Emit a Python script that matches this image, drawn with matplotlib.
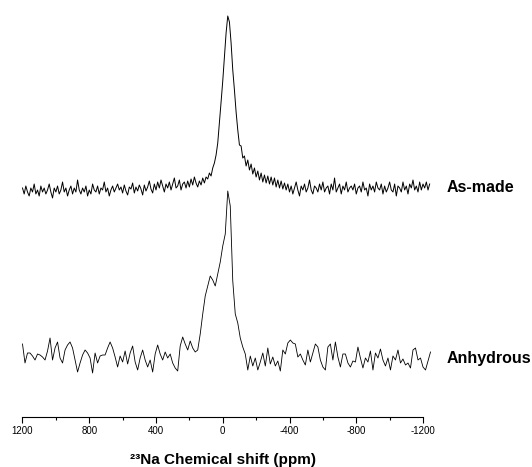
"""
23Na MAS NMR spectra: as-made vs anhydrous
"""

import numpy as np
import matplotlib.pyplot as plt

plt.rcParams['font.family'] = ['Liberation Sans', 'DejaVu Sans']
plt.rcParams['axes.unicode_minus'] = False

# intensities (arbitrary units, baseline ~ 0)
# As-made: 10 ppm spacing from 1200 to -1240 ppm
as_made = [
    0, -6, 2, -4, -8, 0, -4, 4, -6, -2, -8, 2, -4, 0, -6, -2, 4, -4, -10, 0,
    -4, 2, -6, -2, 6, -4, 0, -8, -2, 2, -6, 0, -4, 8, -2, -6, 0, -4, 2, -8,
    -2, -6, 4, -2, -4, 2, -6, 0, -2, 6, -4, 0, -8, -2, 2, -4, 0, 4, -2,
    1, -5, 3, -3, -7, 1, -1, 5, -5, 1, -3, 3, -1, -7, 3, -3, 1, 7, -1, -5,
    4, -2, 6, 0, 8, 2, -4, 4, 0, 6, -2, 4, 10, 0, 2, 8, -2, 4, 6, 0,
    7, 1, 9, 3, 11, 5, 1, 7, 3,
    10, 5, 11, 9, 15, 12, 20, 25,
    33, 45, 65, 86, 107, 131, 155, 172, 166, 145, 118, 98, 76,
    58, 43, 42, 30, 32, 22, 28, 18, 24, 14, 20, 11, 17, 8,
    15, 6, 13, 5, 12, 4, 11, 3, 10, 1, 8, 0, 7, -1, 5, -2,
    4, -4, 2, -6, 0, 6, -2, -8, 2, -2, 4, -4, 0, 8, -2, -6, 2, 0, -4, 4,
    -2, 6, -4, 0, 2, -6, 4, -2, 10, -4, 0, 4, -6, 2, -2, 6, -4, 0, 2, -2,
    4, -6, 0, 2, -4, 6, -2, 0, -8, 4, -2, 2, -4, 6, 0, -2, 4, -6, 2, -4,
    0, 6, -2, -4, 4, -8, 2, 0, -4, 6, -2, 2, -6, 4, 0, 8, -2, 2, -4, 6,
    -2, 4, 0, 6, -2, 4,
]
as_made_ppm = np.linspace(1200, -1240, len(as_made))

# Anhydrous: 15 ppm spacing from 1200 to -1245 ppm
anhydrous = [
    12, -7, 3, 3, 0, -4, 2, 1, -1, -4, 5, 18, -4, 8, 14, -2, -7, 6, 11, 14,
    8, -4, -16, -7, 1, 6, 3, -2, -17, 3, -7, 0, 1, 1, 8, 14, 8, -1, -11, 0, -6,
    5, -8, 3, 10, -6, -14, -2, 6, -4, -11, -4, -16, 2, 11, 2, -4, 4, -2, 2, -7,
    -12, -15, 10, 19, 12, 6, 15, 8, 4, 6,
    22, 42, 60, 70, 80, 76, 70, 82, 94, 110, 122, 165,
    150, 75, 42, 33, 18, 9, 2, -14, 0, -10, -2, -14, -6, 3, -10, 8, -8, -1, -10, -5,
    -15, 6, 2, 13, 16, 13, 12, -1, 2, -4, -9, 6, -6, 3, 12, 9, -4, -11, -14, 9, 12,
    -4, 14, -1, -11, 2, 2, -7, -11, -5, -6, 9, -2, -12, -2, -6, 5, -14, 3, -2, 7,
    -4, -10, -2, -14, 0, -4, 6, -7, -3, -9, -7, -12, 6, 8, -4, -2, -11, -14, -5, 4,
]
anhydrous_ppm = np.linspace(1200, -1245, len(anhydrous))

labels = ['As-made', 'Anhydrous']
offset = 168  # vertical stacking of the two spectra

fig = plt.figure(figsize=(5.32, 4.67), dpi=100)
ax = fig.add_axes([22.5 / 532, 50 / 467, 400.5 / 532, 417 / 467])

ax.plot(as_made_ppm, np.array(as_made) + offset, color='black', lw=0.7, clip_on=False)
ax.plot(anhydrous_ppm, anhydrous, color='black', lw=0.6, clip_on=False)

ax.text(-1344, offset, labels[0], ha='left', va='center', fontsize=11.5,
        fontweight='bold', clip_on=False)
ax.text(-1344, -3, labels[1], ha='left', va='center', fontsize=11.5,
        fontweight='bold', clip_on=False)

ax.set_xlim(1200, -1200)
ax.set_ylim(-61, 356)
ax.set_xticks(np.arange(1200, -1201, -400))
ax.set_xticks(np.arange(1000, -1001, -400), minor=True)
ax.tick_params(axis='x', which='major', length=4, width=0.8, labelsize=7, pad=2.5)
ax.tick_params(axis='x', which='minor', length=2.2, width=0.8)
ax.set_yticks([])
for side in ['left', 'right', 'top']:
    ax.spines[side].set_visible(False)
ax.spines['bottom'].set_linewidth(0.8)

fig.text(222.75 / 532, 7 / 467, '²³Na Chemical shift (ppm)', ha='center', va='center',
         fontsize=11, fontweight='bold')

fig.savefig('out.png', dpi=100)
